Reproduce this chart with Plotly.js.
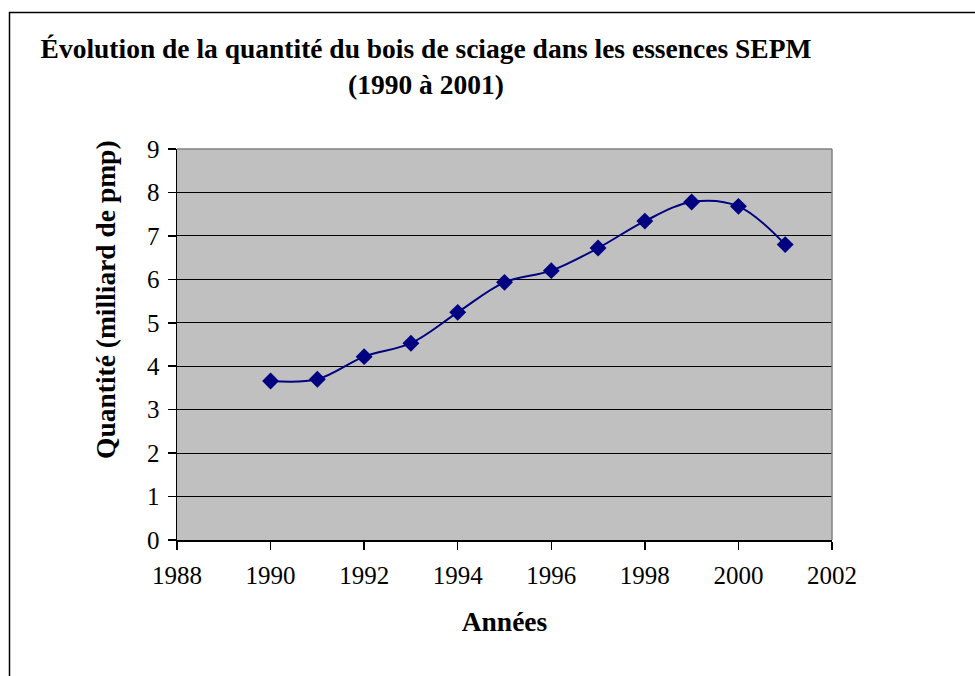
<!DOCTYPE html>
<html>
<head>
<meta charset="utf-8">
<script src="https://cdn.plot.ly/plotly-3.0.1.min.js"></script>
<style>html,body{margin:0;padding:0;background:#fff;}#chart{width:975px;height:676px;}</style>
</head>
<body>
<div id="chart"></div>
<script>
const years = [1990, 1991, 1992, 1993, 1994, 1995, 1996, 1997, 1998, 1999, 2000, 2001];
const quantite = [3.66, 3.70, 4.22, 4.53, 5.24, 5.93, 6.20, 6.72, 7.34, 7.78, 7.68, 6.80];
const xTicks = [1988, 1990, 1992, 1994, 1996, 1998, 2000, 2002];
const yTicks = [0, 1, 2, 3, 4, 5, 6, 7, 8, 9];
const titleText = 'Évolution de la quantité du bois de sciage dans les essences SEPM<br>(1990 à 2001)';
const xTitle = 'Années';
const yTitle = 'Quantité (milliard de pmp)';

const serif = 'Liberation Serif, Times New Roman, serif';

const trace = {
  x: years, y: quantite, type: 'scatter', mode: 'lines+markers',
  line: {color: '#000080', width: 2, shape: 'spline', smoothing: 1},
  marker: {symbol: 'diamond', size: 13, color: '#000080'},
  showlegend: false, hoverinfo: 'x+y'
};

const layout = {
  width: 975, height: 676,
  margin: {l: 177, r: 143, t: 149, b: 136},
  paper_bgcolor: '#ffffff',
  plot_bgcolor: '#c0c0c0',
  font: {family: serif, color: '#000', size: 25},
  title: {
    text: titleText,
    font: {family: serif, size: 27.5, color: '#000', weight: 'bold'},
    xref: 'container', yref: 'container',
    x: 426/975, xanchor: 'center',
    y: 1 - 58/676, yanchor: 'top'
  },
  xaxis: {
    range: [1988, 2002], tickvals: xTicks, ticktext: xTicks.map(String),
    showgrid: false, zeroline: false,
    showline: true, linecolor: '#000', linewidth: 1.5,
    ticks: 'outside', ticklen: 8, tickcolor: '#000', tickwidth: 1.5,
    ticklabelstandoff: 4,
    tickfont: {family: serif, size: 25, color: '#000'},
    title: {text: xTitle, font: {family: serif, size: 27.5, color: '#000', weight: 'bold'}, standoff: 24}
  },
  yaxis: {
    range: [0, 9], tickvals: yTicks, ticktext: yTicks.map(String),
    showgrid: true, gridcolor: '#000', gridwidth: 1,
    zeroline: false,
    showline: true, linecolor: '#000', linewidth: 1.5,
    ticks: 'outside', ticklen: 8, tickcolor: '#000', tickwidth: 1.5,
    ticklabelstandoff: 3,
    tickfont: {family: serif, size: 25, color: '#000'}
  },
  annotations: [{
    text: yTitle, textangle: -90, showarrow: false,
    xref: 'paper', yref: 'paper',
    x: (105 - 177) / 655, y: (540 - 300) / 391,
    xanchor: 'center', yanchor: 'middle',
    font: {family: serif, size: 27.5, color: '#000', weight: 'bold'}
  }],
  shapes: [
    {type: 'line', xref: 'paper', yref: 'paper', x0: 0, x1: 1, y0: 1, y1: 1, line: {color: '#808080', width: 1.5}},
    {type: 'line', xref: 'paper', yref: 'paper', x0: 1, x1: 1, y0: 0, y1: 1, line: {color: '#808080', width: 1.5}},
    {type: 'rect', xref: 'paper', yref: 'paper',
     x0: (9.5 - 177) / 655, x1: (1000 - 177) / 655,
     y0: (540 - 720) / 391, y1: (540 - 12.5) / 391,
     line: {color: '#000', width: 1.5}, fillcolor: 'rgba(0,0,0,0)', layer: 'below'}
  ]
};

Plotly.newPlot('chart', [trace], layout, {displayModeBar: false, staticPlot: true});
</script>
</body>
</html>
